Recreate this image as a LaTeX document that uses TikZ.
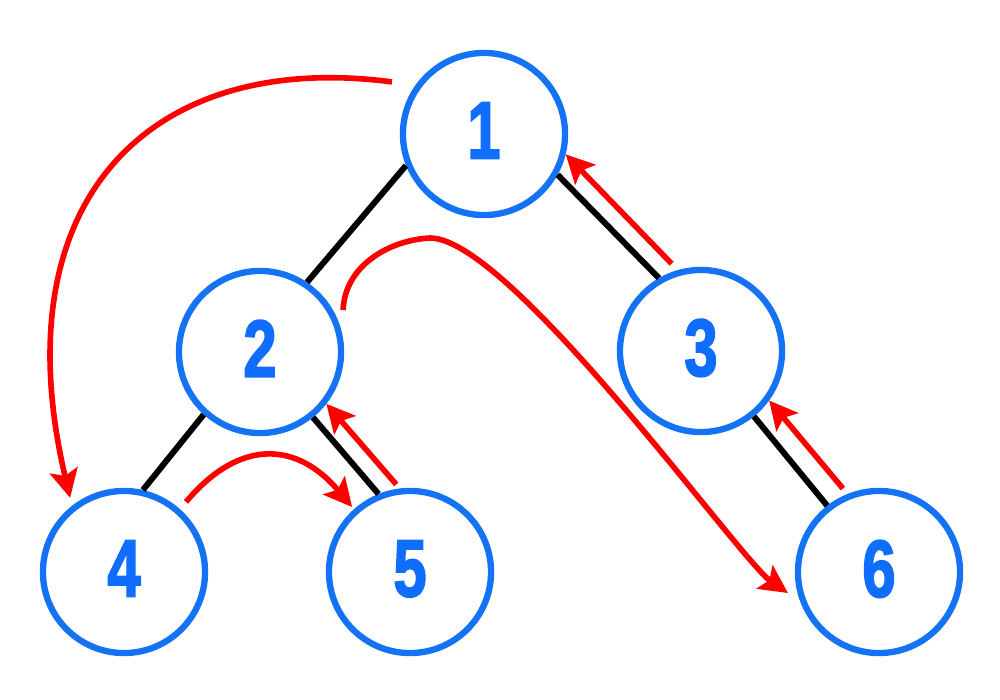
\documentclass[tikz,border=0pt]{standalone}
\usepackage{fontspec}
\setmainfont{Liberation Sans}[BoldFeatures={FakeBold=2.4}]
\usetikzlibrary{arrows.meta,calc}
\definecolor{nodeblue}{RGB}{20,115,245}
\definecolor{digitblue}{RGB}{15,110,255}
\definecolor{arrowred}{RGB}{255,0,0}
\newcommand{\dgt}[1]{\raisebox{2pt}{\scalebox{0.74}[1]{\fontsize{23}{27}\selectfont\bfseries #1}}}
\begin{document}
\begin{tikzpicture}[x=0.01cm,y=-0.01cm,
  vert/.style={circle, draw=nodeblue, line width=1.8pt, minimum size=1.62cm,
    inner sep=0pt, text=digitblue},
  edge/.style={black, line width=1.7pt},
  trav/.style={arrowred, line width=1.6pt,
    -{Stealth[length=8pt,width=8pt,inset=1.6pt]}}]
\useasboundingbox (0,0) rectangle (1000,700);

\node[vert] (n1) at (484,134) {\dgt{1}};
\node[vert] (n2) at (260,352) {\dgt{2}};
\node[vert] (n3) at (701,351) {\dgt{3}};
\node[vert] (n4) at (124,572) {\dgt{4}};
\node[vert] (n5) at (410,572) {\dgt{5}};
\node[vert] (n6) at (879,572) {\dgt{6}};

% tree edges
\draw[edge] (n1.202.7) -- (n2.56.3);
\draw[edge] (n1.-29.3) -- (n3.120.7);
\draw[edge] (n2.228.7) -- (n4.77);
\draw[edge] (n2.-51.2) -- (n5.112.7);
\draw[edge] (n3.-51.7) -- (n6.128.2);

% straight traversal arrows
\draw[trav, shorten <=2.5pt] (n3.106) -- (n1.-14);
\draw[trav, shorten <=1.5pt] (n5.97.7) -- (n2.-38.3);
\draw[trav, shorten <=2pt] (n6.112) -- (n3.-36.7);

% curved traversal arrows
\coordinate (a14s) at ($(n1)+(150.5:1.057cm)$);
\coordinate (a14e) at ($(n4)+(126:0.916cm)$);
\draw[trav] (a14s) .. controls (150,50) and (0,200) .. (a14e);

\coordinate (a45s) at ($(n4)+(48.5:0.935cm)$);
\coordinate (a45e) at ($(n5)+(131.7:0.87cm)$);
\draw[trav] (a45s) to[out=50,in=130,looseness=1.3] (a45e);

\coordinate (a26s) at ($(n2)+(26.8:0.93cm)$);
\coordinate (a26m) at (430,238);
\coordinate (a26e) at ($(n6)+(193:0.934cm)$);
\draw[trav] (a26s) .. controls (345,265) and (390,240) .. (a26m)
  .. controls (510,238) and (740,560) .. (a26e);
\end{tikzpicture}
\end{document}
